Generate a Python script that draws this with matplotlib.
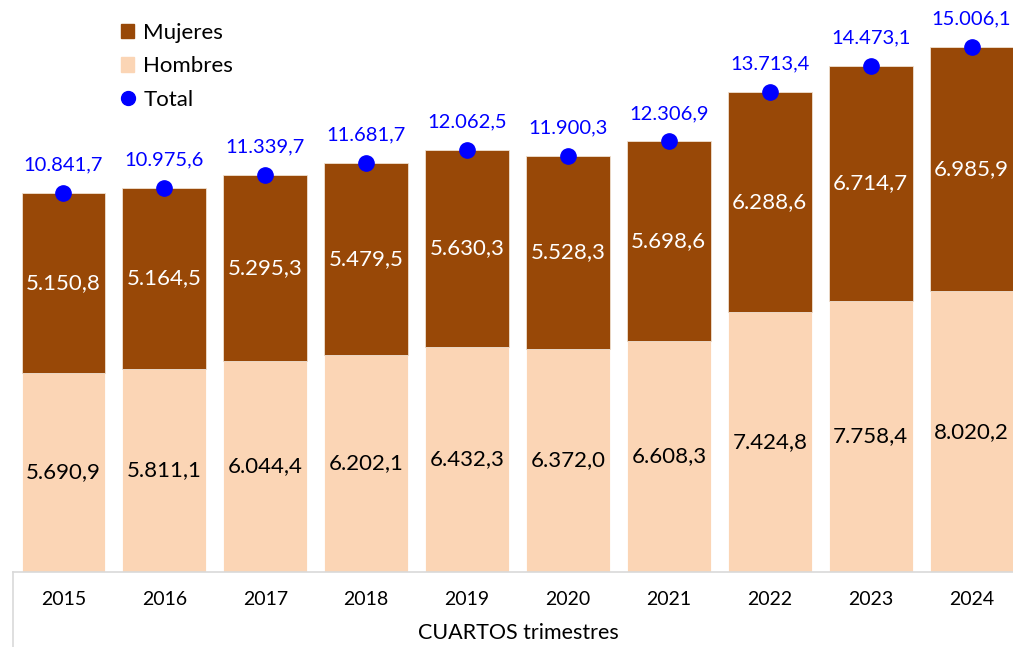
import matplotlib
matplotlib.use("Agg")
import matplotlib.pyplot as plt
from matplotlib.lines import Line2D
from matplotlib.patches import Patch

plt.rcParams['font.family'] = ['Lato', 'DejaVu Sans']

years = ['2015', '2016', '2017', '2018', '2019', '2020', '2021', '2022', '2023', '2024']
hombres = [5690.9, 5811.1, 6044.4, 6202.1, 6432.3, 6372.0, 6608.3, 7424.8, 7758.4, 8020.2]
mujeres = [5150.8, 5164.5, 5295.3, 5479.5, 5630.3, 5528.3, 5698.6, 6288.6, 6714.7, 6985.9]
total = [10841.7, 10975.6, 11339.7, 11681.7, 12062.5, 11900.3, 12306.9, 13713.4, 14473.1, 15006.1]

C_MUJ = '#984807'
C_HOM = '#FBD5B5'
C_TOT = '#0000FF'


def fmt(v):
    s = f"{v:,.1f}"
    return s.replace(',', 'X').replace('.', ',').replace('X', '.')


W, H = 1013, 647
fig = plt.figure(figsize=(W / 100, H / 100), dpi=100)
left = 13 / W
right = 1022 / W
bottom = (H - 572) / H
ax = fig.add_axes([left, bottom, right - left, 1 - bottom])

x = list(range(len(years)))
ax.bar(x, hombres, width=0.83, color=C_HOM, edgecolor='white', linewidth=0.6, label='Hombres', zorder=2)
ax.bar(x, mujeres, width=0.83, bottom=hombres, color=C_MUJ, edgecolor='#F0E0D0', linewidth=0.6,
       label='Mujeres', zorder=2)
ax.plot(x, total, 'o', color=C_TOT, markersize=11, linestyle='none', label='Total', zorder=3)

for i in x:
    ax.text(i, hombres[i] / 2, fmt(hombres[i]), ha='center', va='center', fontsize=16, color='black')
    ax.text(i, hombres[i] + mujeres[i] / 2, fmt(mujeres[i]), ha='center', va='center', fontsize=16,
            color='white')
    ax.annotate(fmt(total[i]), (i, total[i]), xytext=(0, 14), textcoords='offset points',
                ha='center', va='bottom', fontsize=14.5, color=C_TOT)

ax.set_xlim(-0.5, len(years) - 0.5)
ax.set_ylim(0, 16350)
ax.set_yticks([])
for s in ['top', 'right', 'left']:
    ax.spines[s].set_visible(False)
ax.spines['bottom'].set_color('#D9D9D9')
ax.spines['bottom'].set_linewidth(1.2)
ax.set_xticks(x)
ax.set_xticklabels(years, fontsize=14)
ax.tick_params(axis='x', length=0, pad=14)
ax.set_xlabel('CUARTOS trimestres', fontsize=15.5, va='center')
ax.xaxis.set_label_coords((518 - 13) / (1022 - 13), -(633 - 572) / 572)

fig.add_artist(Line2D([left, left], [0, bottom], transform=fig.transFigure, color='#D9D9D9', linewidth=1.2))

handles = [Patch(color=C_MUJ), Patch(color=C_HOM),
           Line2D([], [], marker='o', color=C_TOT, linestyle='none', markersize=10)]
leg = fig.legend(handles, ['Mujeres', 'Hombres', 'Total'], loc='upper left',
                 bbox_to_anchor=(101 / W, 1 - 3 / H), frameon=False, fontsize=16,
                 handlelength=0.6, handleheight=0.6, handletextpad=0.4, labelspacing=0.6)

fig.savefig('out.png', dpi=100)
